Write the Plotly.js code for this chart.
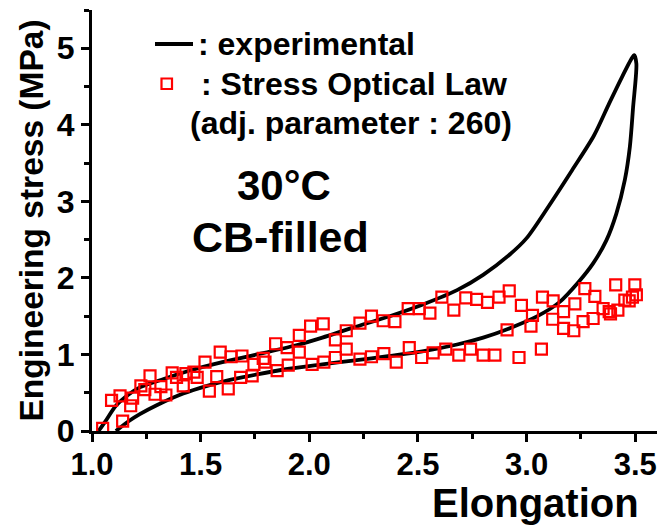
<!DOCTYPE html>
<html>
<head>
<meta charset="utf-8">
<script src="https://cdn.plot.ly/plotly-3.0.1.min.js"></script>
<style>html,body{margin:0;padding:0;background:#fff;}#chart{width:665px;height:531px;}</style>
</head>
<body>
<div id="chart"></div>
<script>
// Experimental hysteresis loop (loading then unloading)
const expX = [1.03,1.06,1.11,1.17,1.22,1.33,1.45,1.60,1.76,1.94,2.06,2.20,2.37,2.52,2.68,2.80,2.92,3.00,3.10,3.21,3.31,3.38,3.44,3.48,3.495,
              3.505,3.49,3.475,3.452,3.413,3.367,3.306,3.24,3.15,3.05,2.92,2.80,2.68,2.52,2.37,2.20,2.06,1.90,1.76,1.64,1.53,1.42,1.30,1.22,1.17,1.11];
const expY = [0.00,0.12,0.33,0.48,0.57,0.68,0.79,0.90,1.00,1.12,1.22,1.35,1.50,1.65,1.84,2.04,2.30,2.52,2.93,3.41,3.86,4.28,4.63,4.85,4.91,
              4.80,4.23,3.71,3.28,2.84,2.49,2.19,1.95,1.68,1.50,1.34,1.22,1.13,1.04,0.98,0.92,0.87,0.81,0.74,0.67,0.59,0.49,0.34,0.22,0.13,0.00];

// Stress Optical Law points
const solX = [1.049,1.09,1.129,1.141,1.178,1.187,1.225,1.243,1.267,1.29,1.317,1.34,1.369,1.389,1.42,1.432,1.469,1.484,1.52,1.54,
              1.574,1.59,1.627,1.64,1.684,1.69,1.737,1.745,1.788,1.796,1.845,1.852,1.898,1.903,1.954,1.954,2.006,2.013,2.064,2.067,
              2.12,2.12,2.17,2.17,2.233,2.233,2.286,2.286,2.34,2.343,2.394,2.40,2.455,2.46,2.506,2.517,2.555,2.57,2.61,2.628,
              2.665,2.688,2.72,2.742,2.77,2.80,2.82,2.854,2.873,2.92,2.91,2.965,2.976,3.02,3.027,3.068,3.073,3.122,3.12,3.17,
              3.17,3.222,3.217,3.268,3.26,3.314,3.306,3.352,3.38,3.386,3.41,3.42,3.452,3.472,3.498,3.487,3.505];
const solY = [0.035,0.40,0.46,0.13,0.33,0.43,0.59,0.54,0.72,0.48,0.58,0.47,0.76,0.70,0.59,0.75,0.77,0.70,0.90,0.52,
              0.71,1.03,0.55,0.97,0.70,0.98,0.72,0.87,0.95,0.90,1.14,0.79,1.09,0.86,1.25,1.03,1.37,0.87,1.40,0.90,
              1.19,0.96,1.31,1.07,1.41,0.94,1.50,0.97,1.44,1.01,1.43,0.90,1.60,1.09,1.60,0.96,1.54,1.02,1.75,1.07,
              1.58,0.99,1.74,1.07,1.72,0.99,1.68,0.99,1.75,1.83,1.32,0.96,1.64,1.37,1.51,1.07,1.75,1.70,1.46,1.56,
              1.34,1.66,1.31,1.86,1.43,1.76,1.47,1.60,1.56,1.53,1.91,1.58,1.71,1.70,1.91,1.75,1.78];

const xTickVals = [1.0,1.5,2.0,2.5,3.0,3.5];
const xTickText = ["1.0","1.5","2.0","2.5","3.0","3.5"];
const yTickVals = [0,1,2,3,4,5];
const yTickText = ["0","1","2","3","4","5"];

const FONT = "Liberation Sans, Arial, Helvetica, sans-serif";

const traces = [
  {x: expX, y: expY, mode: 'lines', type: 'scatter', name: 'experimental',
   line: {color: '#000000', width: 3.8, shape: 'spline', smoothing: 0.8}, showlegend: false, hoverinfo: 'skip'},
  {x: solX, y: solY, mode: 'markers', type: 'scatter', name: 'Stress Optical Law',
   marker: {symbol: 'square-open', size: 11, color: '#ff0000', line: {width: 2.2, color: '#ff0000'}},
   showlegend: false}
];

function px2x(p){ return (p - 92) / 565; }
function px2y(p){ return (431 - p) / 421; }

const layout = {
  width: 665, height: 531,
  margin: {l: 92, r: 8, t: 10, b: 100},
  paper_bgcolor: '#ffffff', plot_bgcolor: '#ffffff',
  showlegend: false,
  font: {family: FONT, color: '#000000'},
  xaxis: {
    range: [1.0, 3.6], showgrid: false, zeroline: false,
    showline: true, linewidth: 3, linecolor: '#000',
    ticks: 'outside', ticklen: 8, tickwidth: 3, tickcolor: '#000',
    tickvals: xTickVals, ticktext: xTickText, ticklabelstandoff: -4,
    tickfont: {family: FONT, size: 31, color: '#000', weight: 'bold'},
    minor: {ticks: 'outside', dtick: 0.25, tick0: 1.0, ticklen: 5, tickwidth: 3, tickcolor: '#000', showgrid: false}
  },
  yaxis: {
    range: [0, 5.5], showgrid: false, zeroline: false,
    showline: true, linewidth: 3, linecolor: '#000',
    ticks: 'outside', ticklen: 8, tickwidth: 3, tickcolor: '#000',
    tickvals: yTickVals, ticktext: yTickText,
    tickfont: {family: FONT, size: 32, color: '#000', weight: 'bold'},
    minor: {ticks: 'outside', dtick: 0.5, tick0: 0, ticklen: 5, tickwidth: 3, tickcolor: '#000', showgrid: false},
    title: {text: 'Engineering stress (MPa)', font: {family: FONT, size: 33.5, color: '#000', weight: 'bold'}, standoff: 4}
  },
  shapes: [
    {type: 'line', xref: 'paper', yref: 'paper', x0: px2x(155), x1: px2x(193), y0: px2y(44), y1: px2y(44),
     line: {color: '#000', width: 3.8}},
    {type: 'rect', xref: 'paper', yref: 'paper', x0: px2x(161.5), x1: px2x(172), y0: px2y(89), y1: px2y(78.5),
     line: {color: '#ff0000', width: 2.2}, fillcolor: 'rgba(0,0,0,0)'}
  ],
  annotations: [
    {text: ': experimental', xref: 'paper', yref: 'paper', x: px2x(196), y: px2y(44), xanchor: 'left', yanchor: 'middle',
     showarrow: false, font: {family: FONT, size: 32, color: '#000', weight: 'bold'}},
    {text: ': Stress Optical Law', xref: 'paper', yref: 'paper', x: px2x(199), y: px2y(84), xanchor: 'left', yanchor: 'middle',
     showarrow: false, font: {family: FONT, size: 32, color: '#000', weight: 'bold'}},
    {text: '(adj. parameter : 260)', xref: 'paper', yref: 'paper', x: px2x(188), y: px2y(123), xanchor: 'left', yanchor: 'middle',
     showarrow: false, font: {family: FONT, size: 32, color: '#000', weight: 'bold'}},
    {text: '30°C', xref: 'paper', yref: 'paper', x: px2x(284), y: px2y(185), xanchor: 'center', yanchor: 'middle',
     showarrow: false, font: {family: FONT, size: 42, color: '#000', weight: 'bold'}},
    {text: 'CB-filled', xref: 'paper', yref: 'paper', x: px2x(280), y: px2y(237), xanchor: 'center', yanchor: 'middle',
     showarrow: false, font: {family: FONT, size: 43, color: '#000', weight: 'bold'}},
    {text: 'Elongation', xref: 'paper', yref: 'paper', x: px2x(535), y: px2y(503), xanchor: 'center', yanchor: 'middle',
     showarrow: false, font: {family: FONT, size: 40, color: '#000', weight: 'bold'}}
  ]
};

Plotly.newPlot('chart', traces, layout, {displayModeBar: false, staticPlot: true});
</script>
</body>
</html>
